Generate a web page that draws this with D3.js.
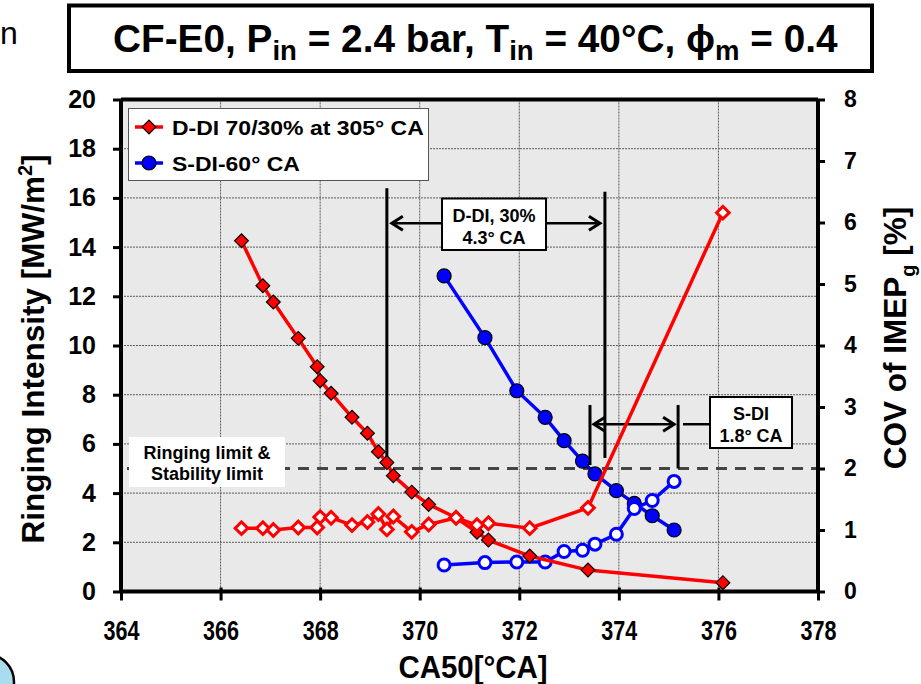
<!DOCTYPE html>
<html><head><meta charset="utf-8">
<script src="https://cdn.jsdelivr.net/npm/d3@7"></script>
<style>body{margin:0;background:#fff}svg{display:block}text{font-family:"Liberation Sans",Arial,sans-serif}</style>
</head><body>
<svg id="c" width="921" height="684"></svg>
<script>
// ---- data ----
const xTicks = [364,366,368,370,372,374,376,378];
const yLeftTicks = [0,2,4,6,8,10,12,14,16,18,20];
const yRightTicks = [0,1,2,3,4,5,6,7,8];
const ddiCA50 = [366.42,366.85,367.06,367.56,367.94,368.00,368.22,368.64,368.95,369.17,369.34,369.47,369.84,370.18,370.73,371.15,371.38,372.21,373.38,376.09];
const ddiRI   = [14.26,12.43,11.77,10.29,9.14,8.57,8.06,7.08,6.43,5.68,5.24,4.71,4.04,3.54,3.00,2.41,2.09,1.44,0.87,0.36];
const ddiCOV  = [1.03,1.03,1.00,1.04,1.04,1.21,1.20,1.08,1.13,1.26,1.01,1.22,0.97,1.09,1.20,1.08,1.11,1.03,1.36,6.16];
const sdiCA50 = [370.49,371.31,371.95,372.52,372.90,373.27,373.52,373.95,374.31,374.67,375.11];
const sdiRI   = [12.83,10.32,8.16,7.08,6.13,5.30,4.78,4.10,3.58,3.08,2.50];
const sdiCOV  = [0.43,0.47,0.48,0.48,0.65,0.67,0.77,0.93,1.35,1.48,1.79];
const seriesNames = ["D-DI 70/30% at 305° CA","S-DI-60° CA"];
const limitRI = 5;

const svg = d3.select("#c");
const L=121, R=818, T=99.5, B=591.5;
const x = d3.scaleLinear().domain([364,378]).range([L,R]);
const yL = d3.scaleLinear().domain([0,20]).range([B,T]);
const yR = d3.scaleLinear().domain([0,8]).range([B,T]);

function fitWidth(sel, target, ax, ay){
  const w = sel.node().getComputedTextLength();
  sel.attr("transform",`translate(${ax},${ay}) scale(${target/w},1)`);
  return target/w;
}

// artifacts at edges
svg.append("text").attr("x",0).attr("y",44).attr("font-size",32).attr("fill","#000").text("n");
svg.append("circle").attr("cx",-14).attr("cy",682).attr("r",28).attr("fill","#a9dcef").attr("stroke","#000").attr("stroke-width",2.5);

// plot background
svg.append("rect").attr("x",L).attr("y",T).attr("width",R-L).attr("height",B-T).attr("fill","#e9e9e9");
// grid
const g = svg.append("g");
g.selectAll(".gx").data(xTicks.slice(1,-1)).join("line")
  .attr("x1",d=>x(d)).attr("x2",d=>x(d)).attr("y1",T).attr("y2",B)
  .attr("stroke","#5a5a5a").attr("stroke-width",1).attr("stroke-dasharray","2,1");
g.selectAll(".gy").data(yLeftTicks.slice(1,-1)).join("line")
  .attr("x1",L).attr("x2",R).attr("y1",d=>yL(d)).attr("y2",d=>yL(d))
  .attr("stroke","#5a5a5a").attr("stroke-width",1).attr("stroke-dasharray","2,1");

// limit dashed line
svg.append("line").attr("x1",L+6).attr("x2",R).attr("y1",yL(limitRI)).attr("y2",yL(limitRI))
  .attr("stroke","#444").attr("stroke-width",3).attr("stroke-dasharray","11,8");

// limit label
svg.append("rect").attr("x",129).attr("y",437).attr("width",156).attr("height",50).attr("fill","#fff");
const ll = svg.append("text").attr("text-anchor","middle").attr("font-size",18).attr("font-weight","bold");
ll.append("tspan").attr("x",207).attr("y",459).text("Ringing limit &");
ll.append("tspan").attr("x",207).attr("y",480).text("Stability limit");

// annotations
function arrowHead(gg,tx,ty,dir){
  gg.append("path").attr("d",`M${tx-dir*11},${ty-7}L${tx},${ty}L${tx-dir*11},${ty+7}`)
    .attr("fill","none").attr("stroke","#000").attr("stroke-width",3);
}
const an = svg.append("g");
function vline(cx,y1,y2){an.append("line").attr("x1",x(cx)).attr("x2",x(cx)).attr("y1",yL(y1)).attr("y2",yL(y2)).attr("stroke","#000").attr("stroke-width",3);}
vline(369.34,5.35,16.39); vline(373.72,5.43,16.25);
an.append("line").attr("x1",x(369.34)+6).attr("x2",x(373.72)-6).attr("y1",yL(14.97)).attr("y2",yL(14.97)).attr("stroke","#000").attr("stroke-width",2.5);
arrowHead(an,x(369.34)+5,yL(14.97),-1); arrowHead(an,x(373.72)-5,yL(14.97),1);
an.append("rect").attr("x",442).attr("y",198.5).attr("width",104).attr("height",51.5).attr("fill","#fff").attr("stroke","#000").attr("stroke-width",2);
const t1 = an.append("text").attr("text-anchor","middle").attr("font-size",18).attr("font-weight","bold");
t1.append("tspan").attr("x",494).attr("y",222).text("D-DI, 30%");
t1.append("tspan").attr("x",494).attr("y",244).text("4.3° CA");

vline(373.42,5.14,7.58); vline(375.19,5.0,7.58);
an.append("line").attr("x1",x(373.42)+5).attr("x2",x(375.19)-5).attr("y1",yL(6.8)).attr("y2",yL(6.8)).attr("stroke","#000").attr("stroke-width",2.5);
arrowHead(an,x(373.42)+4,yL(6.8),-1); arrowHead(an,x(375.19)-4,yL(6.8),1);
an.append("line").attr("x1",683).attr("x2",710).attr("y1",yL(6.8)).attr("y2",yL(6.8)).attr("stroke","#000").attr("stroke-width",2.5);
an.append("rect").attr("x",710).attr("y",397).attr("width",82).attr("height",51).attr("fill","#fff").attr("stroke","#000").attr("stroke-width",2);
const t2 = an.append("text").attr("text-anchor","middle").attr("font-size",18).attr("font-weight","bold");
t2.append("tspan").attr("x",751).attr("y",420).text("S-DI");
t2.append("tspan").attr("x",751).attr("y",442).text("1.8° CA");

// series
const sdiRIpts = sdiCA50.map((c,i)=>[c,sdiRI[i]]);
const sdiCOVpts = sdiCA50.map((c,i)=>[c,sdiCOV[i]]);
const ddiRIpts = ddiCA50.map((c,i)=>[c,ddiRI[i]]);
const ddiCOVpts = ddiCA50.map((c,i)=>[c,ddiCOV[i]]);
const lineL = d3.line().x(d=>x(d[0])).y(d=>yL(d[1]));
const lineR = d3.line().x(d=>x(d[0])).y(d=>yR(d[1]));

function diamonds(pts,ys,fill,stroke,sw,size){
  svg.append("g").selectAll("path").data(pts).join("path")
    .attr("d",d3.symbol().type(d3.symbolSquare).size(size)())
    .attr("transform",d=>`translate(${x(d[0])},${ys(d[1])}) rotate(45)`)
    .attr("fill",fill).attr("stroke",stroke).attr("stroke-width",sw);
}
function circles(pts,ys,r,fill,stroke,sw){
  svg.append("g").selectAll("circle").data(pts).join("circle")
    .attr("cx",d=>x(d[0])).attr("cy",d=>ys(d[1])).attr("r",r)
    .attr("fill",fill).attr("stroke",stroke).attr("stroke-width",sw);
}
svg.append("path").datum(sdiRIpts).attr("d",lineL).attr("fill","none").attr("stroke","#0000ff").attr("stroke-width",3.5);
circles(sdiRIpts,yL,7,"#0000ff","#000",1.2);
svg.append("path").datum(sdiCOVpts).attr("d",lineR).attr("fill","none").attr("stroke","#0000ff").attr("stroke-width",3.5);
circles(sdiCOVpts,yR,6,"#fff","#0000ff",3);
svg.append("path").datum(ddiRIpts).attr("d",lineL).attr("fill","none").attr("stroke","#ff0000").attr("stroke-width",3.5);
diamonds(ddiRIpts,yL,"#ff0000","#000",1.2,95);
svg.append("path").datum(ddiCOVpts).attr("d",lineR).attr("fill","none").attr("stroke","#ff0000").attr("stroke-width",3.5);
diamonds(ddiCOVpts,yR,"#fff","#ff0000",3,80);

// frame
svg.append("line").attr("x1",L).attr("x2",R).attr("y1",T).attr("y2",T).attr("stroke","#000").attr("stroke-width",4);

// axes
const fmt = d3.format("d");
const ax = svg.append("g").attr("transform",`translate(0,${B})`).call(d3.axisBottom(x).tickValues(xTicks).tickFormat(fmt).tickSize(9));
const ayl = svg.append("g").attr("transform",`translate(${L},0)`).call(d3.axisLeft(yL).tickValues(yLeftTicks).tickFormat(fmt).tickSize(8).tickPadding(17));
const ayr = svg.append("g").attr("transform",`translate(${R},0)`).call(d3.axisRight(yR).tickValues(yRightTicks).tickFormat(fmt).tickSize(7).tickPadding(19));
[ax,ayl,ayr].forEach(a=>{
  a.select(".domain").attr("stroke","#000").attr("stroke-width",4);
  a.selectAll(".tick line").attr("stroke","#000").attr("stroke-width",3);
  a.selectAll(".tick text").attr("font-size",24).attr("font-weight","bold").attr("fill","#000").attr("font-family","Liberation Sans, Arial, sans-serif");
});
ayl.selectAll(".tick text").attr("font-size",25);
ayr.selectAll(".tick text").attr("font-size",23);
ax.select(".domain").attr("d",`M${L},0H${R}`);
ayl.select(".domain").attr("d",`M0,${T}V${B}`);
ayr.select(".domain").attr("d",`M0,${T}V${B}`);
ax.selectAll(".tick line").attr("y1",-4);
ax.selectAll(".tick text").attr("font-size",27).attr("y",0).attr("dy",0)
  .attr("transform","translate(0,48) scale(0.8,1)");

// axis titles
const xt = svg.append("text").attr("text-anchor","middle").attr("font-size",32).attr("font-weight","bold").text("CA50[°CA]");
xt.attr("transform",`translate(473,678) scale(0.92,1)`);
const ylt = svg.append("text").attr("transform","translate(44,349) rotate(-90)").attr("text-anchor","middle").attr("font-size",31.5).attr("font-weight","bold");
ylt.append("tspan").text("Ringing Intensity [MW/m");
ylt.append("tspan").attr("font-size",20).attr("dy",-12).text("2");
ylt.append("tspan").attr("dy",12).text("]");
const yrt = svg.append("text").attr("transform","translate(906,338) rotate(-90)").attr("text-anchor","middle").attr("font-size",31.5).attr("font-weight","bold");
yrt.append("tspan").text("COV of IMEP");
yrt.append("tspan").attr("font-size",20).attr("dy",9).text("g");
yrt.append("tspan").attr("dy",-9).text(" [%]");

// legend
const lg = svg.append("g");
lg.append("rect").attr("x",128.5).attr("y",108.5).attr("width",300).attr("height",72).attr("fill","#fff").attr("stroke","#555").attr("stroke-width",1);
let legScale = 1;
[[0,"#ff0000"],[1,"#0000ff"]].forEach(([i,c])=>{
  const yy = [127,163][i];
  lg.append("line").attr("x1",135).attr("x2",163).attr("y1",yy).attr("y2",yy).attr("stroke",c).attr("stroke-width",3.5);
  if(i===0) lg.append("path").attr("d",d3.symbol().type(d3.symbolSquare).size(95)()).attr("transform",`translate(149,${yy}) rotate(45)`).attr("fill",c).attr("stroke","#000").attr("stroke-width",1.2);
  else lg.append("circle").attr("cx",149).attr("cy",yy).attr("r",7).attr("fill",c).attr("stroke","#000").attr("stroke-width",1.2);
  const tx = lg.append("text").attr("x",0).attr("y",0).attr("font-size",21).attr("font-weight","bold").text(seriesNames[i]);
  if(i===0) legScale = fitWidth(tx,252,172,yy+7.5);
  else tx.attr("transform",`translate(172,${yy+7.5}) scale(${legScale},1)`);
});

// title
svg.append("rect").attr("x",69).attr("y",5.5).attr("width",803).attr("height",65.5).attr("fill","#fff").attr("stroke","#000").attr("stroke-width",4);
const tt = svg.append("text").attr("x",0).attr("y",0).attr("font-size",38).attr("font-weight","bold");
const parts = [["CF-E0, P",0],["in",1],[" = 2.4 bar, T",0],["in",1],[" = 40°C, ϕ",0],["m",1],[" = 0.4",0]];
parts.forEach(([s,sub],i)=>{
  const ts = tt.append("tspan").text(s);
  if(sub){ ts.attr("font-size",27).attr("dy",8); } else if(i>0){ ts.attr("dy",-8); }
});
fitWidth(tt,725,113,52);
</script>
</body></html>
